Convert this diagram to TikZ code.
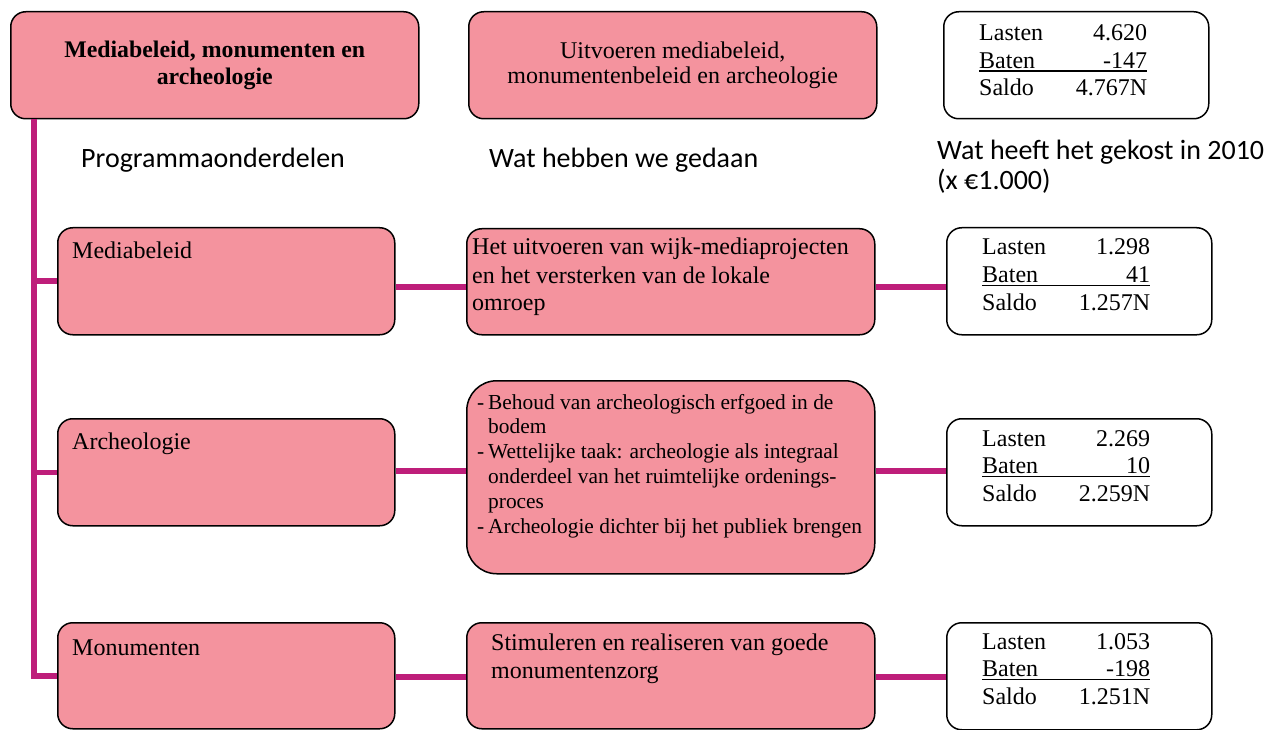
\documentclass[tikz,border=0pt]{standalone}
\usepackage{fontspec}
\setmainfont{Liberation Serif}
\newfontfamily\headfont{Carlito}
\definecolor{boxpink}{RGB}{244,147,158}
\definecolor{linkmag}{RGB}{190,30,122}
\newcommand\costrow[2]{\makebox[168pt]{#1\hfill #2}}
\newcommand\costul[2]{\rlap{\rule[-3.8pt]{168pt}{1.6pt}}\makebox[168pt]{#1\hfill #2}}
\begin{document}
\begin{tikzpicture}[x=1pt,y=-1pt,
  pinkbox/.style={draw=black,line width=1.5pt,fill=boxpink,rounded corners=15pt,anchor=north west,inner sep=0pt},
  costbox/.style={draw=black,line width=1.5pt,fill=white,rounded corners=15pt,anchor=north west,inner sep=0pt,minimum width=265pt,minimum height=107pt},
  link/.style={draw=linkmag,line width=5.5pt},
  bodytext/.style={inner sep=0pt,anchor=base west,align=left,font=\fontsize{24}{28}\selectfont},
  costtext/.style={inner sep=0pt,anchor=base west,align=left,font=\fontsize{24}{27.5}\selectfont},
  headtext/.style={inner sep=0pt,anchor=base west,align=left,font=\headfont\fontsize{28}{29.5}\selectfont},
]
\useasboundingbox (0,0) rectangle (1278,730);

% top row
\node[pinkbox,minimum width=408pt,minimum height=107pt,align=center,font=\bfseries\fontsize{23.8}{26.5}\selectfont] (top) at (10,11)
  {Mediabeleid, monumenten en\\archeologie};
\node[pinkbox,minimum width=408pt,minimum height=107pt,align=center,font=\fontsize{24}{25}\selectfont] (topact) at (468,11)
  {Uitvoeren mediabeleid,\\monumentenbeleid en archeologie};
\node[costbox] (cost0) at (943,11) {};
% base anchor of a multi-line node = baseline of its last line
\node[costtext] (cost0t) at (979,95.7) {\costrow{Lasten}{4.620}\\\costul{Baten}{-147}\\\costrow{Saldo}{4.767N}};

% headings
\node[headtext] (h1) at (81,168) {Programmaonderdelen};
\node[headtext] (h2) at (489,168) {Wat hebben we gedaan};
\node[headtext] (h3) at (937,189.5) {Wat heeft het gekost in 2010\\(x €1.000)};

% row 1
\node[pinkbox,minimum width=337pt,minimum height=107pt] (media) at (57,227) {};
\node[bodytext] (mediat) at (72,259) {Mediabeleid};
\node[pinkbox,minimum width=408pt,minimum height=106pt] (act1) at (466,228) {};
\node[bodytext] (act1t) at (472,311) {Het uitvoeren van wijk-mediaprojecten\\en het versterken van de lokale\\omroep};
\node[costbox] (cost1) at (946,227) {};
\node[costtext] (cost1t) at (982,310) {\costrow{Lasten}{1.298}\\\costul{Baten}{41}\\\costrow{Saldo}{1.257N}};

% row 2
\node[pinkbox,minimum width=337pt,minimum height=107pt] (arch) at (57,418) {};
\node[bodytext] (archt) at (72,449) {Archeologie};
\node[pinkbox,rounded corners=30pt,minimum width=408pt,minimum height=193pt] (act2) at (466,380) {};
\node[inner sep=0pt,anchor=base west,align=left,font=\fontsize{21.4}{24.8}\selectfont] (act2t) at (477,533)
  {\makebox[11pt][l]{-}Behoud van archeologisch erfgoed in de\\
   \hspace*{11pt}bodem\\
   \makebox[11pt][l]{-}Wettelijke taak: archeologie als integraal\\
   \hspace*{11pt}onderdeel van het ruimtelijke ordenings-\\
   \hspace*{11pt}proces\\
   \makebox[11pt][l]{-}Archeologie dichter bij het publiek brengen};
\node[costbox] (cost2) at (946,418) {};
\node[costtext] (cost2t) at (982,501) {\costrow{Lasten}{2.269}\\\costul{Baten}{10}\\\costrow{Saldo}{2.259N}};

% row 3
\node[pinkbox,minimum width=337pt,minimum height=106pt] (mono) at (57,622) {};
\node[bodytext] (monot) at (72,655) {Monumenten};
\node[pinkbox,minimum width=408pt,minimum height=106pt] (act3) at (466,622) {};
\node[bodytext] (act3t) at (491,678) {Stimuleren en realiseren van goede\\monumentenzorg};
\node[costbox] (cost3) at (946,622) {};
\node[costtext] (cost3t) at (982,704) {\costrow{Lasten}{1.053}\\\costul{Baten}{-198}\\\costrow{Saldo}{1.251N}};

% connectors
\coordinate (tk) at (34,0);
\coordinate (r1) at (0,287);
\coordinate (r2) at (0,471);
\coordinate (r3) at (0,677);
\draw[link] (tk |- top.south) -- (tk |- mono.west) -- (mono.west);
\draw[link] (tk |- media.west) -- (media.west);
\draw[link] (tk |- arch.west) -- (arch.west);
\draw[link] (media.east |- r1) -- (act1.west |- r1);
\draw[link] (act1.east |- r1) -- (cost1.west |- r1);
\draw[link] (arch.east |- r2) -- (act2.west |- r2);
\draw[link] (act2.east |- r2) -- (cost2.west |- r2);
\draw[link] (mono.east |- r3) -- (act3.west |- r3);
\draw[link] (act3.east |- r3) -- (cost3.west |- r3);
\end{tikzpicture}
\end{document}
